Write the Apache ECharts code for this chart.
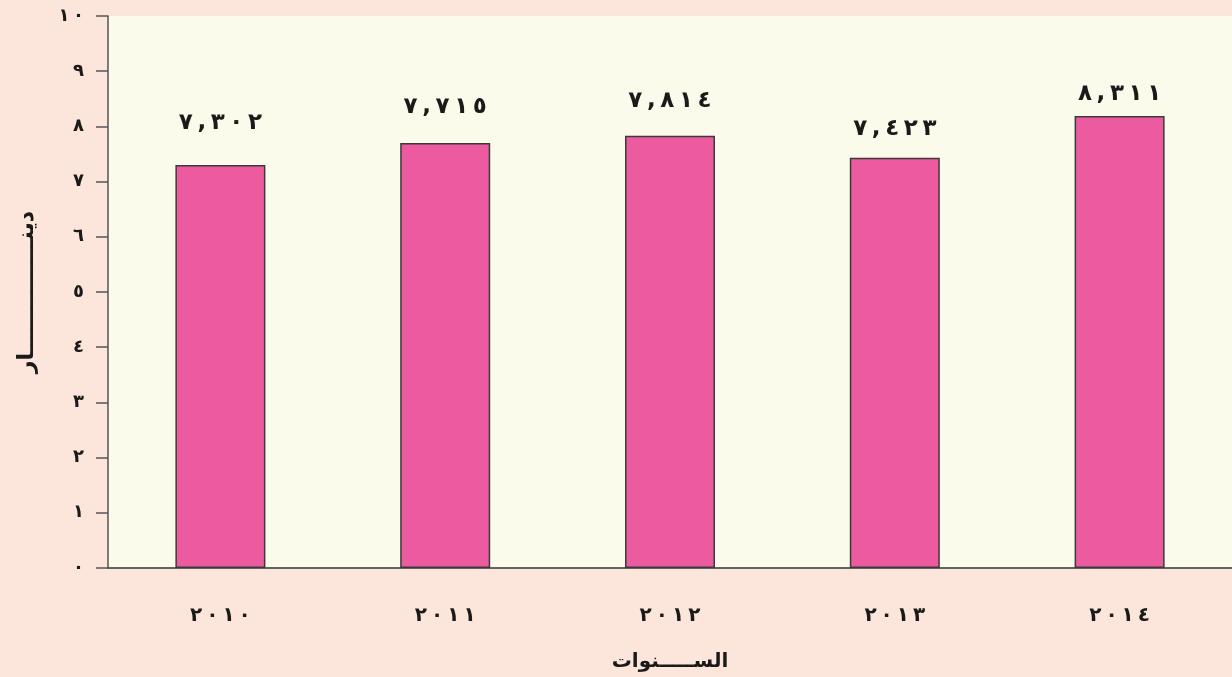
<!DOCTYPE html>
<html>
<head>
<meta charset="utf-8">
<script src="https://cdn.jsdelivr.net/npm/echarts@6/dist/echarts.min.js"></script>
<style>
html, body { margin: 0; padding: 0; background: #fce6dc; }
#main { width: 1232px; height: 677px; }
</style>
</head>
<body>
<div id="main"></div>
<script>
var years = ['2010', '2011', '2012', '2013', '2014'];
// bar heights as drawn
var values = [7.30, 7.70, 7.83, 7.43, 8.19];
// the printed value labels
var valueLabels = ['7,302', '7,715', '7,814', '7,423', '8,311'];
// how far each value label sits above its bar
var labelLift = [31, 24, 23, 17, 10];

var arDigits = '٠١٢٣٤٥٦٧٨٩';
function toAr (s) {
	return String(s).replace(/[0-9]/g, function (d) { return arDigits[+d]; });
}
// spaced digits, kept left to right with LRM marks
function spaced (s) {
	return toAr(s).split('').join('\u200E\u2009\u200E');
}

var chart = echarts.init(document.getElementById('main'));

var seriesData = values.map(function (v, i) {
	return {
		value: v,
		label: { distance: labelLift[i] }
	};
});

var option = {
	backgroundColor: '#fce6dc',
	animation: false,
	textStyle: {
		fontFamily: 'DejaVu Sans'
	},
	grid: {
		left: 108,
		right: 0,
		top: 16,
		bottom: 109,
		show: true,
		backgroundColor: '#fafbea',
		borderWidth: 0
	},
	xAxis: {
		type: 'category',
		data: years,
		name: 'الســـــنوات',
		nameLocation: 'middle',
		nameGap: 84,
		nameTextStyle: {
			color: '#1a1a1a',
			fontSize: 20,
			fontWeight: 'bold'
		},
		axisTick: { show: false },
		axisLine: {
			lineStyle: { color: '#333', width: 1.5 }
		},
		axisLabel: {
			margin: 38,
			color: '#1a1a1a',
			fontSize: 20,
			fontWeight: 'bold',
			formatter: function (v) {
				return spaced(v);
			}
		}
	},
	yAxis: {
		type: 'value',
		min: 0,
		max: 10,
		interval: 1,
		name: 'دينـــــــــــــــار',
		nameLocation: 'middle',
		nameGap: 70,
		nameTextStyle: {
			color: '#1a1a1a',
			fontSize: 22,
			fontWeight: 'bold'
		},
		axisLine: {
			show: true,
			lineStyle: { color: '#555', width: 1.5 }
		},
		axisTick: {
			show: true,
			inside: false,
			length: 12,
			lineStyle: { color: '#555', width: 1.5 }
		},
		splitLine: { show: false },
		axisLabel: {
			margin: 24,
			color: '#1a1a1a',
			fontSize: 18,
			fontWeight: 'bold',
			formatter: function (v) {
				return spaced(v);
			}
		}
	},
	series: [{
		type: 'bar',
		data: seriesData,
		barWidth: 90,
		itemStyle: {
			color: '#ec5a9f',
			borderColor: '#3a3a3a',
			borderWidth: 1.5
		},
		label: {
			show: true,
			position: 'top',
			color: '#1a1a1a',
			fontSize: 23,
			fontWeight: 'bold',
			formatter: function (p) {
				return spaced(valueLabels[p.dataIndex]);
			}
		}
	}]
};

chart.setOption(option);
</script>
</body>
</html>
